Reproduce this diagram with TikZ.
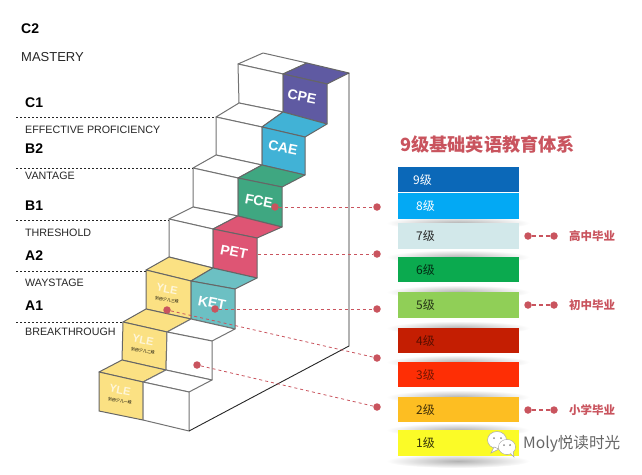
\documentclass[tikz,border=0pt]{standalone}
\usepackage{fontspec}
\setmainfont{Liberation Sans}
\newfontfamily\cjk{Noto Sans CJK SC}
\usetikzlibrary{positioning,shapes}
\definecolor{cpecol}{HTML}{5F5AA2}
\definecolor{caecol}{HTML}{41B2D6}
\definecolor{fcecol}{HTML}{3FA781}
\definecolor{petcol}{HTML}{DE5574}
\definecolor{ketcol}{HTML}{6CC0C3}
\definecolor{ylecol}{HTML}{FBE183}
\definecolor{redcol}{HTML}{C9545E}
\definecolor{lvnine}{HTML}{0B68B8}
\definecolor{lveight}{HTML}{03A9F4}
\definecolor{lvseven}{HTML}{D2E8EA}
\definecolor{lvsix}{HTML}{0BAA4F}
\definecolor{lvfive}{HTML}{90CF57}
\definecolor{lvfour}{HTML}{C41E02}
\definecolor{lvthree}{HTML}{FE2E05}
\definecolor{lvtwo}{HTML}{FDBE22}
\definecolor{lvone}{HTML}{FBFB27}

\begin{document}
\begin{tikzpicture}[
            x=1pt,y=-1pt,
            plain/.style={draw=black!55,line width=1pt,line join=round,fill=white},
            face/.style={draw=black!60,line width=1pt,line join=round},
            exam/.style={text=white,font=\bfseries\fontsize{14}{14}\selectfont,rotate=-11,inner sep=0},
            yle/.style={text=white!70!ylecol,font=\bfseries\fontsize{11}{11}\selectfont,rotate=-11,inner sep=0},
            ylesub/.style={text=black,font=\cjk\fontsize{4}{4}\selectfont,rotate=-8,inner sep=0},
            grade/.style={anchor=west,font=\bfseries\fontsize{14}{14}\selectfont,inner sep=0},
            stage/.style={anchor=west,font=\fontsize{10.7}{10.7}\selectfont,text=black!85,inner sep=0},
            rule/.style={draw=black!85,line width=.8pt,dash pattern=on 2pt off 2pt},
            dotmark/.style={circle,fill=redcol,inner sep=0,minimum size=7.5pt},
            leader/.style={draw=redcol,line width=.8pt,dash pattern=on 3pt off 3pt},
            finish/.style={draw=redcol,line width=1.2pt,dash pattern=on 4pt off 3pt},
            school/.style={anchor=west,text=redcol,font=\cjk\bfseries\fontsize{11.5}{11.5}\selectfont,inner sep=0},
            bar/.style={anchor=north west,text width=85pt,inner xsep=18pt,inner ysep=0,align=left,font=\cjk\fontsize{12}{12}\selectfont},
            halo/.style={inner color=black!30,outer color=white}
          ]
          \useasboundingbox (0,0) rectangle (642,474);

          %stairs from the top down
          \draw[plain] (263,53) -- (307,63) -- (283,74) -- (238,64) -- cycle;
          \draw[plain] (238,64) -- (283,74) -- (283,112) -- (239,103) -- cycle;
          \draw[face,fill=cpecol] (307,63) -- (349,73) -- (327,84) -- (283,74) -- cycle;
          \draw[face,fill=cpecol] (283,74) -- (327,84) -- (327,124) -- (283,112) -- cycle;

          \draw[plain] (239,103) -- (283,112) -- (262,127) -- (216,117) -- cycle;
          \draw[plain] (216,117) -- (262,127) -- (262,165) -- (216,155) -- cycle;
          \draw[face,fill=caecol] (283,112) -- (327,124) -- (305,137) -- (262,127) -- cycle;
          \draw[face,fill=caecol] (262,127) -- (305,137) -- (305,175) -- (262,165) -- cycle;

          \draw[plain] (216,155) -- (262,165) -- (238,178) -- (193,168) -- cycle;
          \draw[plain] (193,168) -- (238,178) -- (238,216) -- (193,207) -- cycle;
          \draw[face,fill=fcecol] (262,165) -- (305,175) -- (282,187) -- (238,178) -- cycle;
          \draw[face,fill=fcecol] (238,178) -- (282,187) -- (282,227) -- (238,216) -- cycle;

          \draw[plain] (193,207) -- (238,216) -- (213,229) -- (169,219) -- cycle;
          \draw[plain] (169,219) -- (213,229) -- (213,268) -- (169,257) -- cycle;
          \draw[face,fill=petcol] (238,216) -- (282,227) -- (257,238) -- (213,229) -- cycle;
          \draw[face,fill=petcol] (213,229) -- (257,238) -- (257,278) -- (213,268) -- cycle;

          \draw[face,fill=ylecol] (169,257) -- (213,268) -- (191,281) -- (146,270) -- cycle;
          \draw[face,fill=ylecol] (146,270) -- (191,281) -- (191,319) -- (146,309) -- cycle;
          \draw[face,fill=ketcol] (213,268) -- (257,278) -- (235,289) -- (191,281) -- cycle;
          \draw[face,fill=ketcol] (191,281) -- (235,289) -- (235,329) -- (191,319) -- cycle;

          \draw[face,fill=ylecol] (146,309) -- (191,319) -- (167,332) -- (123,322) -- cycle;
          \draw[face,fill=ylecol] (123,322) -- (167,332) -- (166,370) -- (122,360) -- cycle;
          \draw[plain] (191,319) -- (235,329) -- (212,341) -- (167,332) -- cycle;
          \draw[plain] (167,332) -- (212,341) -- (212,380) -- (166,370) -- cycle;

          \draw[face,fill=ylecol] (122,360) -- (166,370) -- (143,382) -- (99,372) -- cycle;
          \draw[face,fill=ylecol] (99,372) -- (143,382) -- (143,420) -- (99,411) -- cycle;
          \draw[plain] (166,370) -- (212,380) -- (189,392) -- (143,382) -- cycle;
          \draw[plain] (143,382) -- (189,392) -- (189,431) -- (143,420) -- cycle;

          %back side
          \draw[black!85,line width=.9pt,line join=round] (349,73) -- (349,346) -- (189,431);

          %exam names
          \node[exam] (cpe) at (302,97) {CPE};
          \node[exam] (cae) at (283,148) {CAE};
          \node[exam] (fce) at (259,201) {FCE};
          \node[exam] (pet) at (234,252) {PET};
          \node[exam] (ket) at (212,303) {KET};
          \node[yle] (yle3) at (167,289) {YLE};
          \node[ylesub] (sub3) at (167,300) {剑桥少儿三级};
          \node[yle] (yle2) at (143,340) {YLE};
          \node[ylesub] (sub2) at (143,351) {剑桥少儿二级};
          \node[yle] (yle1) at (120,390) {YLE};
          \node[ylesub] (sub1) at (120,401) {剑桥少儿一级};

          %labels
          \node[grade] (c2) at (21,29) {C2};
          \node[stage,font=\fontsize{13}{13}\selectfont] (mastery) at (21,57) {MASTERY};
          \node[grade] (c1) at (25,103) {C1};
          \node[stage] (eff) at (25,130) {EFFECTIVE PROFICIENCY};
          \node[grade] (b2) at (25,149) {B2};
          \node[stage] (van) at (25,176) {VANTAGE};
          \node[grade] (b1) at (25,206) {B1};
          \node[stage] (thr) at (25,233) {THRESHOLD};
          \node[grade] (a2) at (25,256) {A2};
          \node[stage] (way) at (25,283) {WAYSTAGE};
          \node[grade] (a1) at (25,306) {A1};
          \node[stage] (bre) at (25,332) {BREAKTHROUGH};

          %dotted rules
          \foreach \rname/\ypos/\xend in {c/117/216,b/168/193,t/220/169,w/271/146,k/322/123}{
            \coordinate (\rname start) at (16,\ypos);
            \coordinate (\rname end) at (\xend,\ypos);
            \draw[rule] (\rname start) -- (\rname end);
          }

          %title
          \node[anchor=west,text=redcol,inner sep=0,font=\cjk\bfseries\fontsize{18.2}{18.2}\selectfont] (title) at (400,144) {9级基础英语教育体系};

          %shadows
          \foreach \ypos in {223,257,292,328,362,397,430,461}{
            \shade[halo] (458,\ypos) ellipse (72 and 7);
          }

          %levels
          \foreach \lev/\ytop/\hgt/\col/\txt in {
              9/167/25/lvnine/white,8/193/26/lveight/white,7/223/26/lvseven/black!85,
              6/257/25/lvsix/black!75!lvsix,5/292/26/lvfive/black!75!lvfive,
              4/328/25/lvfour/black!55!lvfour,3/362/25/lvthree/black!55!lvthree,
              2/397/25/lvtwo/black!75!lvtwo,1/430/26/lvone/black!80!lvone}{
            \node[bar,fill=\col,text=\txt,minimum height=\hgt pt] (bar\lev) at (398,\ytop) {\ifnum\lev=9 \hspace*{-3pt}\fi\lev 级};
          }

          %dots and leaders
          \node[dotmark] (fcedot) at (275,207) {};
          \node[dotmark] (fceend) at (377,207) {};
          \coordinate (petdot) at (258,254);
          \node[dotmark] (petend) at (377,254) {};
          \node[dotmark] (ketdot) at (215,309) {};
          \node[dotmark] (ketend) at (377,309) {};
          \node[dotmark] (yledot) at (167,310) {};
          \node[dotmark] (yleend) at (377,358) {};
          \node[dotmark] (lowdot) at (197,365) {};
          \node[dotmark] (lowend) at (377,407) {};
          \draw[leader] (fcedot) -- (fceend);
          \draw[leader] (petdot) -- (petend);
          \draw[leader] (ketdot) -- (ketend);
          \draw[leader] (yledot) -- (yleend);
          \draw[leader] (lowdot) -- (lowend);

          %school ends
          \foreach \sname/\ypos/\stxt in {high/236/高中毕业,mid/305/初中毕业,pri/410/小学毕业}{
            \node[dotmark] (\sname a) at (528,\ypos) {};
            \node[dotmark] (\sname b) at (554,\ypos) {};
            \draw[finish] (\sname a) -- (\sname b);
            \node[school] (\sname txt) at (569,\ypos) {\stxt};
          }

          %watermark
          \draw[black!35,fill=white,line width=.5pt] (497,440) ellipse (9.5 and 8.5);
          \draw[black!35,fill=white,line width=.5pt] (494,447) -- (491,453) -- (499,449) -- cycle;
          \fill[black!45] (494,438) circle (1) (501,438) circle (1);
          \draw[black!35,fill=white,line width=.5pt] (507,447) ellipse (8.5 and 7.5);
          \draw[black!35,fill=white,line width=.5pt] (510,453) -- (514,457) -- (513,451) -- cycle;
          \fill[white] (507,447) ellipse (8 and 7);
          \fill[black!45] (504,445) circle (1) (510,445) circle (1);
          \node[anchor=west,text=black!60,inner sep=0,font=\cjk\fontsize{15.6}{15.6}\selectfont] (mark) at (523,444) {Moly悦读时光};
      \end{tikzpicture}
\end{document}
